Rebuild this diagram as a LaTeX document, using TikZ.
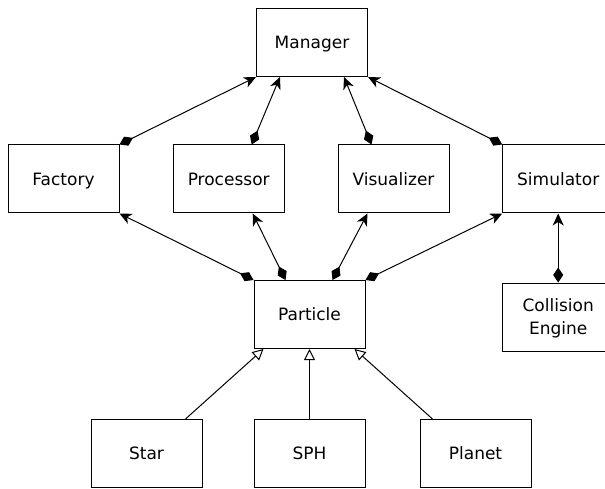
\documentclass[tikz,border=0pt]{standalone}
\usepackage{fontspec}
\setmainfont{DejaVu Sans}
\usetikzlibrary{arrows.meta}
\tikzset{
  box/.style={draw, line width=1pt, minimum width=111pt, minimum height=68pt,
    inner sep=0pt, align=center, text height=12.4pt, text depth=0pt,
    font=\fontsize{17}{23}\selectfont},
  owns/.style={line width=1pt,
    {Diamond[length=15pt,width=10pt]}-{Stealth[length=12pt,width=11pt,inset=3.5pt]}},
  extends/.style={line width=1pt, -{Triangle[open,length=11pt,width=11pt]}}
}
\begin{document}
\begin{tikzpicture}[x=1pt,y=1pt]
    \clip (0,0) rectangle (605,-489);
    % classes
    \node [box] (mgr) at (312,-42.5) {Manager};
    \node [box] (fac) at (63.5,-179) {Factory};
    \node [box] (proc) at (228.7,-179) {Processor};
    \node [box] (vis) at (393.5,-179) {Visualizer};
    \node [box] (sim) at (558.2,-179) {Simulator};
    \node [box, text height=35.4pt] (ce) at (558.2,-317) {Collision\\Engine};
    \node [box] (part) at (309.5,-314.5) {Particle};
    \node [box] (star) at (146.5,-453.5) {Star};
    \node [box] (sph) at (309.5,-453.5) {SPH};
    \node [box] (plan) at (475.5,-453.5) {Planet};
    % aggregation
    \draw [owns] (fac.north east) -- (mgr.south west);
    \draw [owns] ([xshift=79pt]proc.north west) -- ([xshift=24pt]mgr.south west);
    \draw [owns] ([xshift=34pt]vis.north west) -- ([xshift=-24pt]mgr.south east);
    \draw [owns] (sim.north west) -- (mgr.south east);
    \draw [owns] (part.north west) -- (fac.south east);
    \draw [owns] ([xshift=32pt]part.north west) -- ([xshift=80pt]proc.south west);
    \draw [owns] ([xshift=-33pt]part.north east) -- ([xshift=30pt]vis.south west);
    \draw [owns] (part.north east) -- (sim.south west);
    \draw [owns] (ce.north) -- (sim.south);
    % inheritance
    \draw [extends] ([xshift=95pt]star.north west) -- ([xshift=10pt]part.south west);
    \draw [extends] (sph.north) -- (part.south);
    \draw [extends] ([xshift=13pt]plan.north west) -- ([xshift=-11pt]part.south east);
\end{tikzpicture}
\end{document}
